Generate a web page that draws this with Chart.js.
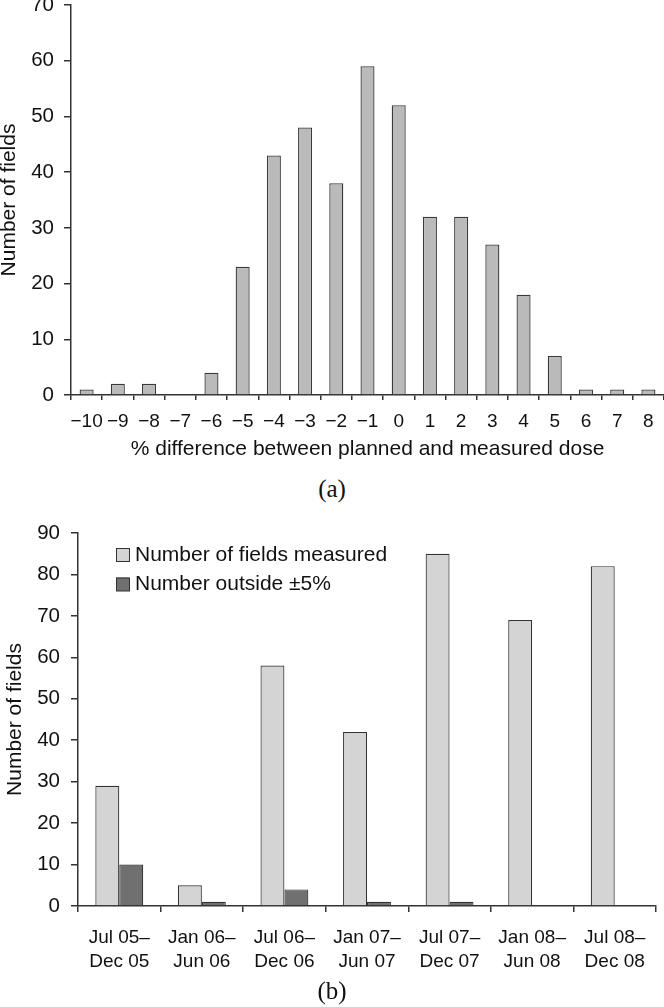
<!DOCTYPE html>
<html>
<head>
<meta charset="utf-8">
<script src="https://cdn.jsdelivr.net/npm/chart.js@4.4.1/dist/chart.umd.min.js"></script>
<style>
  html, body { margin: 0; padding: 0; background: #fff; }
  body { width: 664px; height: 1007px; position: relative; overflow: hidden; }
  .box { position: absolute; left: 0; width: 664px; }
  #boxA { top: 0; height: 470px; }
  #boxB { top: 500px; height: 507px; }
  .caption {
    position: absolute; left: 0; width: 664px; text-align: center;
    font-family: "Liberation Serif", "DejaVu Serif", serif; font-size: 25px;
    color: #111; line-height: 25px;
  }
  #capA { top: 476px; }
  #capB { top: 978px; }
</style>
</head>
<body>
<div class="box" id="boxA"><canvas id="chartA"></canvas></div>
<div class="caption" id="capA">(a)</div>
<div class="box" id="boxB"><canvas id="chartB"></canvas></div>
<div class="caption" id="capB">(b)</div>

<script>
// (a) distribution of dose differences
const diffLabels = ['−10', '−9', '−8', '−7', '−6', '−5', '−4', '−3', '−2', '−1',
                    '0', '1', '2', '3', '4', '5', '6', '7', '8'];
const fieldCounts = [1, 2, 2, 0, 4, 23, 43, 48, 38, 59, 52, 32, 32, 27, 18, 7, 1, 1, 1];

// (b) fields per six-month period
const periodLabels = [
  ['Jul 05–', 'Dec 05'],
  ['Jan 06–', 'Jun 06'],
  ['Jul 06–', 'Dec 06'],
  ['Jan 07–', 'Jun 07'],
  ['Jul 07–', 'Dec 07'],
  ['Jan 08–', 'Jun 08'],
  ['Jul 08–', 'Dec 08']
];
const measuredCounts = [29, 5, 58, 42, 85, 69, 82];
const outsideCounts = [10, 1, 4, 1, 1, 0, 0];

const FONT = '"Liberation Sans", Arial, Helvetica, sans-serif';
const INK = '#111';
const AXIS = '#333';

Chart.defaults.font.family = FONT;
Chart.defaults.color = INK;
Chart.defaults.animation = false;

// legend drawn inside the plot, top-left, as in the original figure
const insideLegend = {
  id: 'insideLegend',
  afterDraw(chart) {
    const ctx = chart.ctx;
    const area = chart.chartArea;
    const x0 = area.left + 38;
    let y0 = area.top + 15;
    ctx.save();
    ctx.font = '21px ' + FONT;
    ctx.textBaseline = 'middle';
    ctx.textAlign = 'left';
    chart.data.datasets.forEach(ds => {
      ctx.fillStyle = ds.backgroundColor;
      ctx.fillRect(x0, y0, 13.5, 13.5);
      ctx.strokeStyle = AXIS;
      ctx.lineWidth = 1;
      ctx.strokeRect(x0 + 0.5, y0 + 0.5, 13, 13);
      ctx.fillStyle = INK;
      ctx.fillText(ds.label, x0 + 19, y0 + 7);
      y0 += 29.5;
    });
    ctx.restore();
  }
};

function yAxis(max, step, width, titlePad, titleLH, tickPad) {
  return {
    min: 0,
    max: max,
    ticks: { stepSize: step, padding: tickPad, font: { size: 20.5 }, color: INK },
    grid: { drawOnChartArea: false, drawTicks: true, tickLength: 7, color: AXIS, lineWidth: 1.5 },
    border: { color: AXIS, width: 1.5 },
    title: {
      display: true,
      text: 'Number of fields',
      font: { size: 21, lineHeight: titleLH },
      padding: { top: titlePad, bottom: 0 },
      color: INK
    },
    afterFit(scale) {
      scale.width = width;
      scale.paddingTop = 0;
      scale.paddingBottom = 0;
    }
  };
}

new Chart(document.getElementById('chartA'), {
  type: 'bar',
  data: {
    labels: diffLabels,
    datasets: [{
      label: 'Number of fields',
      data: fieldCounts,
      backgroundColor: '#bababa',
      borderColor: '#3a3a3a',
      borderWidth: 1.3,
      barPercentage: 0.45,
      categoryPercentage: 1
    }]
  },
  options: {
    responsive: true,
    maintainAspectRatio: false,
    layout: { padding: { top: 5, right: 0, left: 0, bottom: 0 } },
    plugins: { legend: { display: false }, tooltip: { enabled: false } },
    scales: {
      x: {
        ticks: { padding: 10, font: { size: 19 }, color: INK, maxRotation: 0, autoSkip: false },
        grid: { drawOnChartArea: false, drawTicks: true, tickLength: 5, color: AXIS, lineWidth: 1.5 },
        border: { color: AXIS, width: 1.5 },
        title: {
          display: true,
          text: '% difference between planned and measured dose',
          font: { size: 21, lineHeight: 1.2 },
          padding: { top: 0, bottom: 8 },
          color: INK
        },
        afterFit(scale) { scale.height = 75; }
      },
      y: yAxis(70, 10, 71, 0, 0.9, 10)
    }
  }
});

new Chart(document.getElementById('chartB'), {
  type: 'bar',
  data: {
    labels: periodLabels,
    datasets: [{
      label: 'Number of fields measured',
      data: measuredCounts,
      backgroundColor: '#d4d4d4',
      borderColor: AXIS,
      borderWidth: 1.2,
      barPercentage: 1,
      categoryPercentage: 0.58
    }, {
      label: 'Number outside ±5%',
      data: outsideCounts,
      backgroundColor: '#707070',
      borderColor: AXIS,
      borderWidth: 1.2,
      barPercentage: 1,
      categoryPercentage: 0.58
    }]
  },
  options: {
    responsive: true,
    maintainAspectRatio: false,
    layout: { padding: { top: 33, right: 8, left: 0, bottom: 0 } },
    plugins: { legend: { display: false }, tooltip: { enabled: false } },
    scales: {
      x: {
        ticks: { padding: 14, font: { size: 19, lineHeight: 1.25 }, color: INK, maxRotation: 0, autoSkip: false },
        grid: { drawOnChartArea: false, drawTicks: true, tickLength: 6, color: AXIS, lineWidth: 1.5 },
        border: { color: AXIS, width: 1.5 },
        afterFit(scale) { scale.height = 101; }
      },
      y: yAxis(90, 10, 78, 3, 1.2, 11)
    }
  },
  plugins: [insideLegend]
});
</script>
</body>
</html>
